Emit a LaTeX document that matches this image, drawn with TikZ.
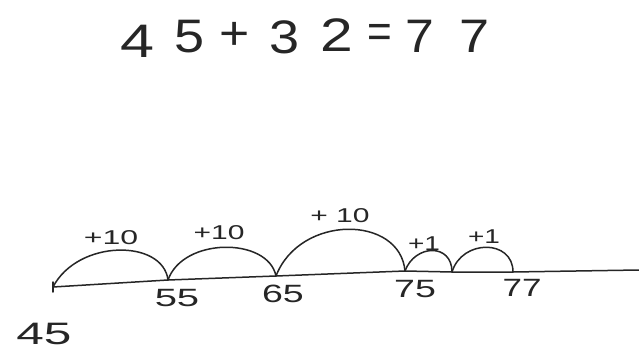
\documentclass[tikz,border=0pt]{standalone}
\usepackage{fontspec}
\setmainfont{Liberation Sans}
\newcommand{\wide}[2]{\scalebox{#1}[1]{#2}}
\begin{document}
\begin{tikzpicture}[x=1pt,y=1pt,
  stroke/.style={draw=black!85,line width=1.5pt,line cap=round,line join=round},
  title/.style={inner sep=0pt,font=\fontsize{47}{47}\selectfont,text=black!85},
  jump/.style={inner sep=0pt,font=\fontsize{20}{20}\selectfont,text=black!85},
  num/.style={inner sep=0pt,font=\fontsize{25}{25}\selectfont,text=black!85}]
\useasboundingbox[fill=white] (0,0) rectangle (639,-350);
% title
\node[title] (t1) at (137,-41) {\wide{1.3}{4}};
\node[title] (t2) at (190,-37) {\wide{1.15}{5}};
\node[title] (t3) at (235,-36) {\wide{1.1}{+}};
\node[title] (t4) at (285,-37) {\wide{1.15}{3}};
\node[title] (t5) at (337,-35) {\wide{1.25}{2}};
\node[title] (t6) at (380,-36) {\wide{0.9}{=}};
\node[title] (t7) at (420,-36) {\wide{1.1}{7}};
\node[title] (t8) at (475,-36) {\wide{1.15}{7}};
% number line points
\coordinate (p45) at (53,-287);
\coordinate (p55) at (168,-280);
\coordinate (p65) at (276,-276);
\coordinate (p75) at (405,-271);
\coordinate (p76) at (452,-272);
\coordinate (p77) at (513,-272);
\coordinate (pend) at (639,-270);
\coordinate (tickt) at (53,-282);
\coordinate (tickb) at (53,-292);
\draw[stroke] (p45) -- (p55) -- (p65) -- (p75) -- (p76) -- (p77) -- (pend);
\draw[stroke] (tickt) -- (tickb);
% jumps
\draw[stroke] (p45) .. controls +(25,48) and +(-5,41) .. (p55);
\draw[stroke] (p55) .. controls +(15,43) and +(-8,39) .. (p65);
\draw[stroke] (p65) .. controls +(24,62) and +(-5,56) .. (p75);
\draw[stroke] (p75) .. controls +(10,27) and +(0,29) .. (p76);
\draw[stroke] (p76) .. controls +(10,33) and +(0,33) .. (p77);
% jump labels
\node[jump] (j1) at (111,-238) {\wide{1.6}{+10}};
\node[jump] (j2) at (219,-233) {\wide{1.5}{+10}};
\node[jump] (j3) at (340,-216) {\wide{1.5}{+ 10}};
\node[jump] (j4) at (424,-244) {\wide{1.4}{+1}};
\node[jump] (j5) at (484,-237) {\wide{1.4}{+1}};
% number labels
\node[num] (n55) at (177,-298) {\wide{1.6}{55}};
\node[num] (n65) at (283,-294) {\wide{1.5}{65}};
\node[num] (n75) at (415,-289) {\wide{1.5}{75}};
\node[num] (n77) at (522,-288) {\wide{1.4}{77}};
\node[num,font=\fontsize{31}{31}\selectfont] (n45) at (44,-334) {\wide{1.6}{45}};
\end{tikzpicture}
\end{document}
